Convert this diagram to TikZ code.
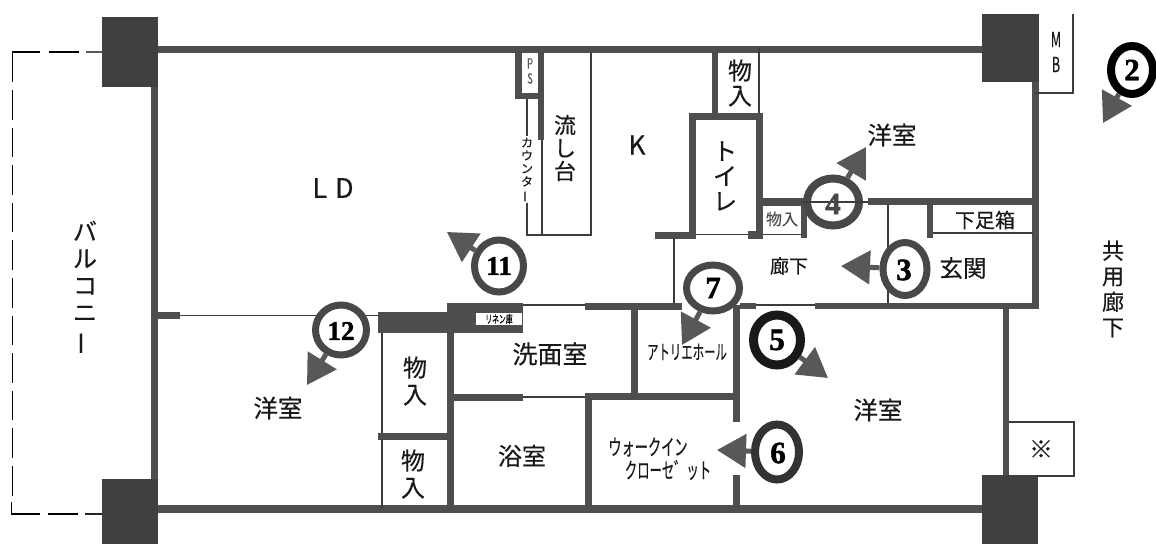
\documentclass[tikz,border=0pt]{standalone}
\usepackage{fontspec}
\setmainfont{Noto Sans CJK JP}[FakeBold=0.35]
\newfontfamily\numfont{Liberation Serif}[FakeBold=1.5]
\usetikzlibrary{arrows.meta, shapes.geometric}
\definecolor{wallc}{RGB}{78, 78, 78}
\definecolor{postc}{RGB}{64, 64, 64}
\definecolor{thinc}{RGB}{60, 60, 60}
\definecolor{arrowc}{RGB}{88, 88, 88}
\definecolor{ringc}{RGB}{72, 72, 72}
\newcommand{\vbar}{\rotatebox[origin=c]{90}{ー}}
\newcommand{\narrow}[2][0.68]{\scalebox{#1}[1]{#2}}
\newcommand{\fs}[2]{\fontsize{#1}{#2}\selectfont}
\tikzset{
  wall/.style={fill=wallc, draw=none},
  post/.style={fill=postc, draw=none},
  thin line/.style={draw=thinc, line width=1.1pt},
  balcony/.style={draw=black, line width=1.3pt},
  room/.style={inner sep=0pt, align=center, text=black!90},
  number/.style={inner sep=0pt, font=\numfont\bfseries\fs{31}{31}},
  viewring/.style={ellipse, draw=ringc, fill=white, inner sep=0pt},
  viewarrow/.style={draw=arrowc, line width=5pt, -{Triangle[length=29pt,width=33pt,fill=arrowc]}},
}
\begin{document}
\begin{tikzpicture}[x=1pt, y=-1pt]
\useasboundingbox (0,0) rectangle (1156,544);
% posts
\fill[post] (102,17) rectangle (158,87);
\fill[post] (982,14) rectangle (1039,82);
\fill[post] (102,479) rectangle (158,544);
\fill[post] (982,475) rectangle (1038,544);
% outer walls
\fill[wall] (158,46) rectangle (982,53);
\fill[wall] (158,505) rectangle (982,513);
\fill[wall] (151,87) rectangle (158,479);
\fill[wall] (1032,82) rectangle (1039,309);
\fill[wall] (1003,309) rectangle (1009,475);
\fill[wall] (815,303) rectangle (1039,309);
% balcony
\draw[balcony] (79,52) -- (49,52);
\draw[balcony] (40,52) -- (12.5,52) -- (12.5,82);
\draw[balcony, dash pattern=on 29.6pt off 8pt] (12.5,90) -- (12.5,496);
\draw[balcony] (11.5,502) -- (11.5,514) -- (40,514);
\draw[balcony] (48,514) -- (78,514);
\draw[draw=arrowc, line width=1.6pt] (86,52) -- (102,52);
\draw[draw=black!85, line width=1.6pt] (85,514) -- (102,514);
% kitchen side
\fill[wall] (515,53) rectangle (522,99);
\fill[wall] (538,53) rectangle (544,140);
\fill[wall] (515,93) rectangle (544,99);
\draw[thin line] (527,99) -- (527,136);
\draw[thin line] (527,203) -- (527,235) -- (591,235) -- (591,53);
\draw[thin line] (542,140) -- (542,235);
% toilet and closet
\fill[wall] (712,53) rectangle (718,115);
\draw[thin line] (759,48) -- (759,115);
\fill[wall] (689,113) rectangle (763,120);
\fill[wall] (689,113) rectangle (696,239);
\fill[wall] (756,113) rectangle (763,239);
\fill[wall] (655,232) rectangle (696,239);
\fill[wall] (748,231) rectangle (763,239);
\draw[thin line] (696,234.5) -- (748,234.5);
\draw[thin line] (763,234.5) -- (801,234.5);
\fill[wall] (763,198) rectangle (807,206);
\fill[wall] (801,198) rectangle (807,238);
% entrance
\fill[wall] (868,198) rectangle (1039,205);
\draw[thin line] (888,205) -- (888,303);
\fill[wall] (927,205) rectangle (933,238);
\draw[thin line] (933,233) -- (1033,233);
% corridor
\draw[thin line] (674,238) -- (674,303);
\fill[wall] (585,303) rectangle (682,310);
\fill[wall] (740,303) rectangle (756,309);
\draw[thin line] (756,305) -- (815,305);
\draw[thin line] (523,305) -- (585,305);
\fill[wall] (158,312) rectangle (180,319);
\draw[thin line] (180,315.5) -- (378,315.5);
% wash and bath
\fill[wall] (378,312) rectangle (447,333);
\fill[wall] (447,303) rectangle (523,333);
\node (linen) [rectangle, fill=white, minimum width=46pt, minimum height=12pt, inner sep=0pt, font=\fs{11}{11}] at (499,319) {\narrow[0.62]{リネン庫}};
\fill[wall] (447,333) rectangle (454,508);
\draw[thin line] (382,333) -- (382,508);
\fill[wall] (378,433) rectangle (447,440);
\fill[wall] (454,394) rectangle (523,401);
\draw[thin line] (523,397) -- (585,397);
\fill[wall] (585,393) rectangle (733,400);
\fill[wall] (585,393) rectangle (592,508);
\fill[wall] (631,310) rectangle (638,393);
\fill[wall] (733,305) rectangle (740,422);
\fill[wall] (733,475) rectangle (740,508);
% boxes outside the walls
\draw[thin line] (1073,14) -- (1073,93) -- (1035,93);
\draw[thin line] (1009,422) -- (1074,422) -- (1074,476) -- (1009,476);
% viewpoints
\node (v2) [viewring, minimum width=42pt, minimum height=48pt, draw=black, line width=8pt] at (1132,70) {};
\node (v3) [viewring, minimum width=44pt, minimum height=53pt, line width=7pt] at (905,269) {};
\node (v4) [viewring, minimum width=52pt, minimum height=47pt, line width=8pt] at (833,202) {};
\node (v5) [viewring, minimum width=47pt, minimum height=50pt, draw=black!90, line width=9pt] at (777,340) {};
\node (v6) [viewring, minimum width=44pt, minimum height=55pt, draw=black!80, line width=8pt] at (777,452) {};
\node (v7) [viewring, minimum width=53pt, minimum height=46pt, line width=7pt] at (713,288) {};
\node (v11) [viewring, minimum width=49pt, minimum height=52pt, line width=7pt] at (499,266) {};
\node (v12) [viewring, minimum width=51pt, minimum height=50pt, line width=7pt] at (341,330) {};
\coordinate (t2) at (1103,123);
\coordinate (t3) at (841,266);
\coordinate (t4) at (866,147);
\coordinate (t5) at (828,378);
\coordinate (t6) at (717,450);
\coordinate (t7) at (682,345);
\coordinate (t11) at (447,232);
\coordinate (t12) at (307,385);
\foreach \n in {2,3,4,5,6,7,11,12}
  \draw[viewarrow] (v\n) -- (t\n);
\draw[thin line] (801,202) -- (868,202);
% numbers
\node (n2) [number] at (1132,70) {2};
\node (n3) [number] at (904,270) {3};
\node (n4) [number, text=ringc] at (833,204) {4};
\node (n5) [number] at (777,340) {5};
\node (n6) [number] at (778,453) {6};
\node (n7) [number] at (713,288) {7};
\node (n11) [number, font=\numfont\bfseries\fs{27}{27}] at (499,266) {11};
\node (n12) [number, font=\numfont\bfseries\fs{27}{27}] at (341,331) {12};
% room names
\node (ld) [room, font=\fs{27}{27}] at (333,188) {L\hspace{8pt}D};
\node (k) [room, font=\fs{26}{26}] at (637,145) {K};
\node (west1) [room, font=\fs{24.5}{25}] at (892,135) {洋室};
\node (west2) [room, font=\fs{24.5}{25}] at (278,408) {洋室};
\node (west3) [room, font=\fs{24.5}{25}] at (878,410) {洋室};
\node (sink) [room, font=\fs{22}{23}] at (565,148) {流\\し\\台};
\node (toilet) [room, font=\fs{24}{25}] at (725,176) {ト\\イ\\レ};
\node (st1) [room, font=\fs{24}{25}] at (740,83) {物\\入};
\node (st2) [room, font=\fs{24}{27}] at (415,381) {物\\入};
\node (st3) [room, font=\fs{24}{27}] at (413,474) {物\\入};
\node (st4) [room, font=\fs{16}{16}, text=black!70] at (782,219) {物入};
\node (counter) [room, font=\fs{12}{13}] at (527,170) {カ\\ウ\\ン\\タ\\\vbar};
\node (ps) [room, font=\fs{14}{15}, text=black!65] at (530,71) {\narrow{P}\\\narrow{S}};
\node (mb) [room, font=\fs{21}{25}] at (1056,52) {\narrow[0.6]{M}\\\narrow[0.6]{B}};
\node (shoe) [room, font=\fs{20}{20}] at (985,220) {下足箱};
\node (hall) [room, font=\fs{19}{19}] at (789,266) {廊下};
\node (genkan) [room, font=\fs{23.5}{24}] at (963,268) {玄関};
\node (wash) [room, font=\fs{25}{25}] at (550,354) {洗面室};
\node (bath) [room, font=\fs{24}{24}] at (522,456) {浴室};
\node (atelier) [room, font=\fs{20}{20}] at (687,352) {\narrow[0.57]{アトリエホール}};
\node (walk1) [room, font=\fs{22}{22}] at (648,447) {\narrow[0.6]{ウォークイン}};
\node (walk2) [room, font=\fs{22}{22}] at (668,470) {\narrow[0.56]{クローセ゛ット}};
\node (mark) [room, font=\fs{24}{24}] at (1041,449) {※};
\node (balc) [room, font=\fs{24}{27}] at (85,288) {バ\\ル\\コ\\ニ\\\vbar};
\node (common) [room, font=\fs{22}{25.5}] at (1113,289) {共\\用\\廊\\下};
\end{tikzpicture}
\end{document}
